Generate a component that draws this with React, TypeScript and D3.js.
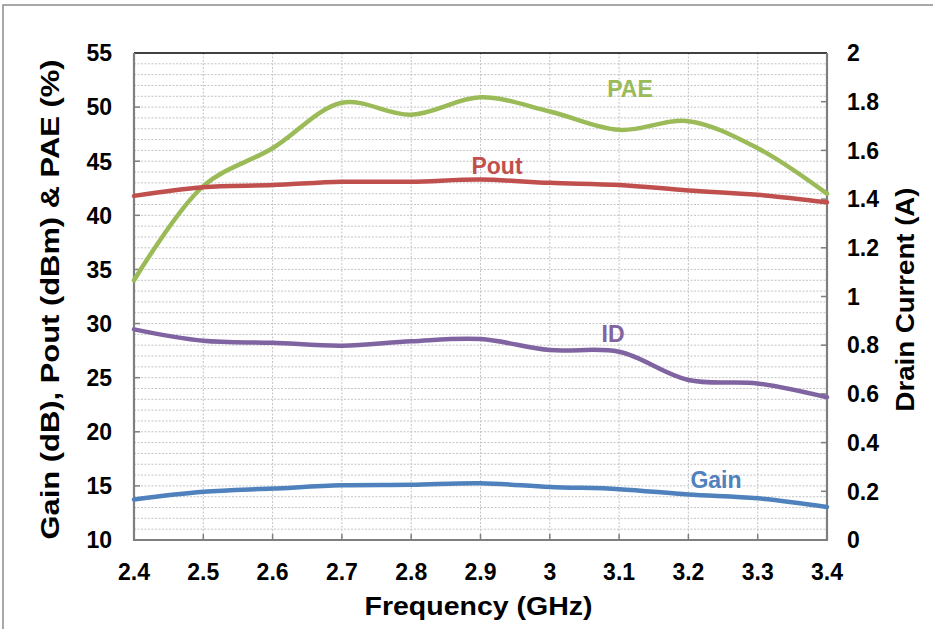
import React from "react";
import * as d3 from "d3";

// frequency points (GHz)
const freqs = [2.4, 2.5, 2.6, 2.7, 2.8, 2.9, 3.0, 3.1, 3.2, 3.3, 3.4];

// left axis series
const pae = [34.0, 42.7, 46.2, 50.4, 49.3, 50.9, 49.6, 47.9, 48.7, 46.2, 42.0];
const pout = [41.8, 42.6, 42.8, 43.1, 43.1, 43.3, 43.0, 42.8, 42.3, 41.9, 41.2];
const gain = [13.75, 14.45, 14.75, 15.05, 15.1, 15.25, 14.9, 14.7, 14.2, 13.85, 13.05];

// right axis series (A)
const drainCurrent = [0.865, 0.818, 0.81, 0.798, 0.816, 0.825, 0.78, 0.773, 0.657, 0.643, 0.586];

const leftTicks = [10, 15, 20, 25, 30, 35, 40, 45, 50, 55];
const rightTicks = [0, 0.2, 0.4, 0.6, 0.8, 1, 1.2, 1.4, 1.6, 1.8, 2];
const xTicks = [2.4, 2.5, 2.6, 2.7, 2.8, 2.9, 3.0, 3.1, 3.2, 3.3, 3.4];

const W = 933;
const H = 629;
const margin = { top: 53, right: 106, bottom: 89, left: 134 };

const FONT = "'Liberation Sans', Arial, sans-serif";

export default function App() {
  const x = d3.scaleLinear().domain([2.4, 3.4]).range([margin.left, W - margin.right]);
  const yL = d3.scaleLinear().domain([10, 55]).range([H - margin.bottom, margin.top]);
  const yR = d3.scaleLinear().domain([0, 2]).range([H - margin.bottom, margin.top]);

  const x0 = margin.left;
  const x1 = W - margin.right;
  const y0 = H - margin.bottom;
  const y1 = margin.top;

  const curve = d3.curveCatmullRom.alpha(0.5);
  const lineL = d3
    .line<number>()
    .x((_, i) => x(freqs[i]))
    .y((d) => yL(d))
    .curve(curve);
  const lineR = d3
    .line<number>()
    .x((_, i) => x(freqs[i]))
    .y((d) => yR(d))
    .curve(curve);

  const minorY = d3.range(11, 55, 1);
  const series = [
    { d: lineL(pae), color: "#9bbb59" },
    { d: lineL(pout), color: "#c0504d" },
    { d: lineR(drainCurrent), color: "#8064a2" },
    { d: lineL(gain), color: "#4f81bd" },
  ];
  const fmt = d3.format("~g");

  return (
    <svg
      width={W}
      height={H}
      style={{ position: "absolute", left: 0, top: 0, background: "#fff" }}
      fontFamily={FONT}
    >
      {/* outer frame */}
      <rect x={3} y={5} width={W + 10} height={H + 10} fill="none" stroke="#8c8c8c" strokeWidth={1.5} />

      {/* grid */}
      <g stroke="#c4c4c4" strokeWidth={1} strokeDasharray="2,1.5">
        {minorY.map((v) => (
          <line key={"h" + v} x1={x0} x2={x1} y1={yL(v)} y2={yL(v)} />
        ))}
        {xTicks.slice(1, -1).map((v) => (
          <line key={"v" + v} x1={x(v)} x2={x(v)} y1={y1} y2={y0} />
        ))}
      </g>

      {/* frame */}
      <line x1={x0} x2={x1} y1={y1} y2={y1} stroke="#000" strokeWidth={1.5} />
      <g stroke="#7f7f7f" strokeWidth={2.2}>
        <line x1={x0} x2={x0} y1={y1} y2={y0 + 1} />
        <line x1={x1} x2={x1} y1={y1} y2={y0 + 1} />
        <line x1={x0 - 1} x2={x1 + 1} y1={y0} y2={y0} />
      </g>
      <g stroke="#7f7f7f" strokeWidth={1.5}>
        {leftTicks.slice(1, -1).map((v) => (
          <line key={"lt" + v} x1={x0} x2={x0 + 6} y1={yL(v)} y2={yL(v)} />
        ))}
        {rightTicks.slice(1, -1).map((v) => (
          <line key={"rt" + v} x1={x1 - 6} x2={x1} y1={yR(v)} y2={yR(v)} />
        ))}
        {xTicks.slice(1, -1).map((v) => (
          <line key={"bt" + v} x1={x(v)} x2={x(v)} y1={y0 - 6} y2={y0} />
        ))}
      </g>

      {/* series */}
      {series.map((s, i) => (
        <path key={i} d={s.d ?? ""} fill="none" stroke={s.color} strokeWidth={4.5} strokeLinecap="round" />
      ))}

      {/* tick labels */}
      <g fontSize={23} fontWeight="bold" fill="#000">
        {leftTicks.map((v) => (
          <text key={"ll" + v} x={112} y={yL(v)} dy="0.36em" textAnchor="end">
            {v}
          </text>
        ))}
        {rightTicks.map((v) => (
          <text key={"rl" + v} x={847} y={yR(v)} dy="0.36em" textAnchor="start">
            {fmt(v)}
          </text>
        ))}
        {xTicks.map((v) => (
          <text key={"xl" + v} x={x(v)} y={580} textAnchor="middle">
            {fmt(v)}
          </text>
        ))}
      </g>

      {/* series labels */}
      <g fontSize={23} fontWeight="bold">
        <text x={630} y={97} textAnchor="middle" fill="#9bbb59">PAE</text>
        <text x={497} y={174} textAnchor="middle" fill="#c0504d">Pout</text>
        <text x={613} y={342} textAnchor="middle" fill="#8064a2">ID</text>
        <text x={716} y={488} textAnchor="middle" fill="#4f81bd">Gain</text>
      </g>

      {/* axis titles */}
      <g fontSize={26} fontWeight="bold" fill="#000">
        <text
          x={0}
          y={0}
          transform={`translate(59,${(y0 + y1) / 2 + 3}) rotate(-90)`}
          textAnchor="middle"
          textLength={480}
          lengthAdjust="spacingAndGlyphs"
        >
          Gain (dB), Pout (dBm) &amp; PAE (%)
        </text>
        <text
          x={0}
          y={0}
          transform={`translate(914,${(y0 + y1) / 2 + 3}) rotate(-90)`}
          textAnchor="middle"
          textLength={224}
          lengthAdjust="spacingAndGlyphs"
        >
          Drain Current (A)
        </text>
        <text
          x={(x0 + x1) / 2 - 2}
          y={615}
          textAnchor="middle"
          textLength={228}
          lengthAdjust="spacingAndGlyphs"
        >
          Frequency (GHz)
        </text>
      </g>
    </svg>
  );
}
